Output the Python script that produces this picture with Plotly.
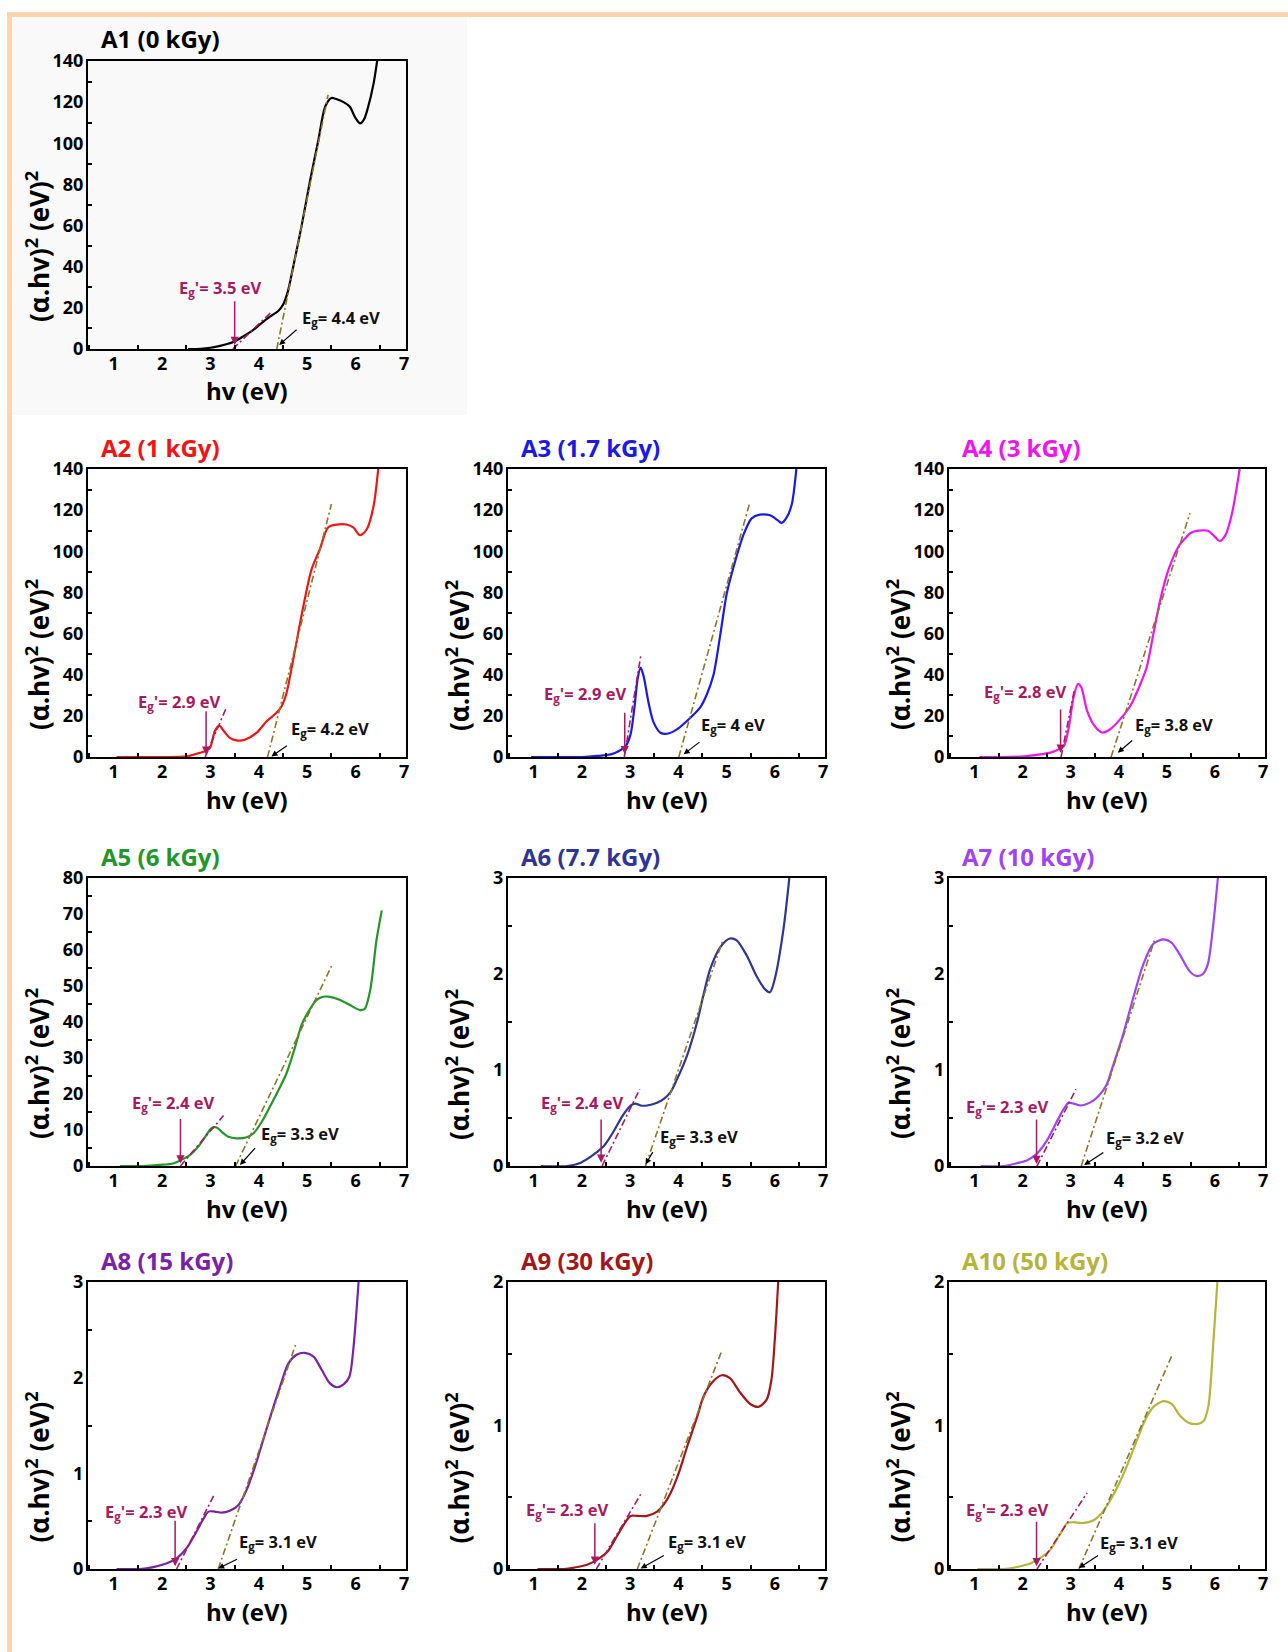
import plotly.graph_objects as go

# ---------------- data ----------------
TITLES = ["A1 (0 kGy)", "A2 (1 kGy)", "A3 (1.7 kGy)", "A4 (3 kGy)", "A5 (6 kGy)",
          "A6 (7.7 kGy)", "A7 (10 kGy)", "A8 (15 kGy)", "A9 (30 kGy)", "A10 (50 kGy)"]
COLORS = ["#000000", "#f01414", "#1a1ae6", "#f014f0", "#22962a",
          "#2e3594", "#a043f2", "#7a22a6", "#a3161a", "#b6b43a"]
Y_MAX = [140, 140, 140, 140, 80, 3, 3, 3, 2, 2]
Y_DTICK = [20, 20, 20, 20, 10, 1, 1, 1, 1, 1]

A1_x = [2.54, 2.8, 3.0, 3.2, 3.47, 3.7, 3.88, 4.05, 4.23, 4.4, 4.5, 4.6, 4.71, 4.88, 5.06, 5.23, 5.37, 5.5, 5.6, 5.75, 5.88, 5.98, 6.09, 6.17, 6.25, 6.37, 6.45]
A1_y = [0, 0.1, 0.6, 1.5, 3.4, 6.5, 9.2, 12.5, 15.7, 18.5, 21.5, 28, 40, 59.5, 82, 101.6, 117.8, 122, 121.5, 120, 117.8, 113, 109.7, 111.5, 117, 129, 141]
A2_x = [1.06, 1.5, 2.0, 2.51, 2.78, 2.89, 2.99, 3.09, 3.18, 3.28, 3.4, 3.54, 3.71, 3.95, 4.16, 4.36, 4.47, 4.57, 4.71, 4.92, 5.09, 5.26, 5.43, 5.61, 5.81, 5.95, 6.09, 6.23, 6.37, 6.47]
A2_y = [0, 0, 0, 0.3, 2, 2.8, 4.4, 12.5, 15.3, 12.5, 9.3, 8.1, 8.4, 11.7, 17.4, 21.4, 24.7, 31, 47.4, 73.4, 91.3, 101, 111.6, 113, 113, 111.6, 107.8, 110.7, 122, 141]
A3_x = [0.95, 1.5, 2.0, 2.32, 2.6, 2.77, 2.91, 3.01, 3.09, 3.16, 3.22, 3.28, 3.39, 3.49, 3.63, 3.77, 3.97, 4.25, 4.45, 4.59, 4.73, 4.87, 5.0, 5.14, 5.35, 5.52, 5.69, 5.9, 6.07, 6.14, 6.24, 6.35, 6.45]
A3_y = [0, 0, 0, 0.5, 1.3, 2.9, 5.3, 11, 24, 38.5, 43.4, 39.3, 25.6, 16.7, 11.8, 11.3, 13.4, 19.1, 24, 30.4, 40, 59.5, 79, 92, 108, 116, 117.8, 117.5, 114.9, 113.8, 116.2, 122.7, 141]
A4_x = [1.1, 1.5, 1.96, 2.37, 2.58, 2.75, 2.86, 2.96, 3.06, 3.15, 3.22, 3.34, 3.48, 3.65, 3.82, 4.03, 4.24, 4.45, 4.58, 4.72, 4.86, 5.03, 5.24, 5.38, 5.5, 5.65, 5.85, 6.0, 6.1, 6.22, 6.35, 6.52]
A4_y = [0, 0, 0.2, 1.3, 2.1, 3.7, 5.4, 14.3, 29, 35.5, 33.9, 22.5, 15.6, 11.9, 13.5, 18.4, 24.9, 35.5, 43.6, 59.9, 76.2, 90.8, 102.2, 106.3, 109, 110, 110, 107, 105, 108, 118, 141]
A5_x = [1.13, 1.6, 1.96, 2.23, 2.4, 2.58, 2.75, 2.89, 3.02, 3.13, 3.23, 3.37, 3.54, 3.75, 3.89, 4.06, 4.23, 4.44, 4.57, 4.75, 4.88, 5.02, 5.19, 5.33, 5.47, 5.68, 5.88, 6.09, 6.19, 6.3, 6.43, 6.54]
A5_y = [0, 0, 0.3, 0.7, 1.7, 3.1, 5.4, 8.1, 10.5, 10.7, 9.5, 8.1, 7.7, 8.0, 9.1, 12.3, 16.5, 22, 25.7, 33.1, 39.1, 42.8, 46.1, 47, 47, 46.1, 44.7, 43.3, 43.7, 48.8, 62.7, 71]
A6_x = [1.15, 1.7, 1.98, 2.25, 2.46, 2.67, 2.84, 3.01, 3.11, 3.22, 3.35, 3.56, 3.7, 3.84, 3.97, 4.18, 4.39, 4.52, 4.66, 4.87, 5.07, 5.21, 5.42, 5.62, 5.8, 5.9, 6.0, 6.18, 6.3]
A6_y = [0, 0, 0.035, 0.12, 0.21, 0.37, 0.52, 0.63, 0.65, 0.63, 0.63, 0.66, 0.7, 0.77, 0.9, 1.15, 1.5, 1.78, 2.05, 2.28, 2.37, 2.35, 2.19, 1.98, 1.84, 1.81, 1.95, 2.47, 3.0]
A7_x = [1.13, 1.61, 1.89, 2.1, 2.3, 2.51, 2.71, 2.85, 2.96, 3.06, 3.2, 3.4, 3.58, 3.75, 3.89, 4.09, 4.3, 4.51, 4.71, 4.92, 5.09, 5.26, 5.47, 5.61, 5.75, 5.85, 5.95, 6.06]
A7_y = [0, 0, 0.03, 0.06, 0.13, 0.27, 0.46, 0.59, 0.66, 0.65, 0.63, 0.66, 0.73, 0.85, 1.06, 1.37, 1.75, 2.1, 2.31, 2.36, 2.33, 2.21, 2.03, 1.98, 2.0, 2.1, 2.45, 3.0]
A8_x = [1.06, 1.54, 1.82, 2.1, 2.3, 2.51, 2.71, 2.85, 2.96, 3.09, 3.23, 3.4, 3.58, 3.75, 3.92, 4.09, 4.26, 4.44, 4.61, 4.78, 4.95, 5.13, 5.3, 5.47, 5.61, 5.75, 5.87, 5.95, 6.06]
A8_y = [0, 0, 0.02, 0.06, 0.11, 0.22, 0.39, 0.52, 0.6, 0.6, 0.59, 0.61, 0.67, 0.83, 1.07, 1.35, 1.63, 1.91, 2.15, 2.24, 2.26, 2.22, 2.08, 1.94, 1.9, 1.93, 2.01, 2.29, 3.0]
A9_x = [1.08, 1.63, 1.84, 2.11, 2.32, 2.53, 2.73, 2.91, 3.01, 3.15, 3.35, 3.56, 3.7, 3.84, 4.01, 4.18, 4.39, 4.52, 4.7, 4.9, 5.07, 5.28, 5.49, 5.66, 5.83, 5.93, 6.0, 6.07]
A9_y = [0, 0, 0.01, 0.03, 0.065, 0.12, 0.23, 0.33, 0.37, 0.37, 0.37, 0.4, 0.45, 0.53, 0.67, 0.85, 1.06, 1.2, 1.3, 1.35, 1.33, 1.23, 1.15, 1.13, 1.18, 1.32, 1.6, 2.0]
A10_x = [1.06, 1.61, 1.89, 2.17, 2.37, 2.58, 2.79, 2.93, 3.06, 3.24, 3.48, 3.62, 3.79, 4.0, 4.17, 4.38, 4.55, 4.72, 4.93, 5.1, 5.27, 5.45, 5.62, 5.76, 5.86, 5.97, 6.05]
A10_y = [0, 0, 0.014, 0.04, 0.077, 0.135, 0.25, 0.32, 0.326, 0.32, 0.34, 0.38, 0.46, 0.59, 0.72, 0.9, 1.04, 1.13, 1.17, 1.15, 1.07, 1.02, 1.01, 1.03, 1.13, 1.6, 2.0]

CURVES_X = [A1_x, A2_x, A3_x, A4_x, A5_x, A6_x, A7_x, A8_x, A9_x, A10_x]
CURVES_Y = [A1_y, A2_y, A3_y, A4_y, A5_y, A6_y, A7_y, A8_y, A9_y, A10_y]

EG = ["4.4", "4.2", "4", "3.8", "3.3", "3.3", "3.2", "3.1", "3.1", "3.1"]
EG_PRIME = ["3.5", "2.9", "2.9", "2.8", "2.4", "2.4", "2.3", "2.3", "2.3", "2.3"]

# main (Eg) tangent line end points: x0, y0, x1, y1
TAN_EG = [(4.37, 0, 5.43, 123.5), (4.18, 0, 5.5, 123), (4.01, 0, 5.47, 122.7), (3.84, 0, 5.48, 118.5),
          (3.52, 0, 5.5, 55.5), (3.32, 0, 4.92, 2.35), (3.22, 0, 4.76, 2.38), (3.16, 0, 4.77, 2.36),
          (3.15, 0, 4.9, 1.52), (3.17, 0, 5.12, 1.5)]
# low-energy (Eg') tangent line end points
TAN_EGP = [(3.46, 0, 4.26, 18), (2.89, 0, 3.33, 24), (2.88, 0, 3.22, 49), (2.8, 0, 3.08, 33),
           (2.38, 0, 3.27, 14), (2.42, 0, 3.2, 0.8), (2.3, 0, 3.11, 0.8), (2.3, 0, 3.09, 0.79),
           (2.3, 0, 3.22, 0.52), (2.3, 0, 3.34, 0.53)]

# ---------------- layout / annotation placement ----------------
W, H = 1288, 1652
COLS = [(88, 406), (508, 825), (949, 1265)]
ROWS = [(61, 349), (469, 757), (878, 1166), (1282, 1569)]
GRID = [(0, 0), (1, 0), (1, 1), (1, 2), (2, 0), (2, 1), (2, 2), (3, 0), (3, 1), (3, 2)]

# Eg' arrow (x, y tail, y head) and label centre; Eg arrow (tail -> head) and label centre
EGP_ARROW = [(3.5, 24, 2), (2.91, 23, 1.1), (2.89, 22.3, 1.3), (2.79, 23.8, 2.1), (2.38, 13.5, 0.7),
             (2.4, 0.5, 0.035), (2.29, 0.5, 0.02), (2.27, 0.52, 0.03), (2.27, 0.33, 0.03), (2.29, 0.34, 0.02)]
EGP_LABEL = [(3.2, 27.5), (2.37, 24.7), (2.08, 28.8), (2.06, 29.8), (2.23, 16.5),
             (2.01, 0.61), (1.68, 0.57), (1.68, 0.55), (1.7, 0.38), (1.68, 0.38)]
EG_ARROW = [(4.81, 10, 4.42, 2), (4.61, 6, 4.26, 0.3), (4.47, 7.8, 4.11, 1.3), (4.31, 8.6, 3.98, 2.1),
            (3.95, 5.4, 3.61, 0.3), (3.49, 0.16, 3.32, 0.017), (3.71, 0.15, 3.28, 0.01),
            (3.58, 0.11, 3.16, 0.005), (3.73, 0.1, 3.22, 0.004), (3.6, 0.1, 3.17, 0.007)]
EG_LABEL = [(5.69, 13.3), (5.47, 11.7), (5.14, 13.4), (5.15, 13.5), (4.86, 7.7),
            (4.43, 0.26), (4.54, 0.25), (4.4, 0.24), (4.59, 0.16), (4.43, 0.15)]

FONT = "Open Sans"
MAG = "#a8195f"
OLIVE = "#8a7626"

fig = go.Figure()
annotations = []
shapes = []

def px_x(p):
    return p / W

def px_y(p):
    return 1 - p / H

for i in range(10):
    r, c = GRID[i]
    x0p, x1p = COLS[c]
    y0p, y1p = ROWS[r]
    sfx = "" if i == 0 else str(i + 1)
    xa, ya = "x" + sfx, "y" + sfx

    fig.add_trace(go.Scatter(x=CURVES_X[i], y=CURVES_Y[i], mode="lines",
                             line=dict(color=COLORS[i], width=2.2, shape="spline", smoothing=0.8),
                             xaxis=xa, yaxis=ya, showlegend=False, hoverinfo="skip"))
    t = TAN_EGP[i]
    fig.add_trace(go.Scatter(x=[t[0], t[2]], y=[t[1], t[3]], mode="lines",
                             line=dict(color=MAG, width=1.6, dash="7px,3px,2px,3px"),
                             xaxis=xa, yaxis=ya, showlegend=False, hoverinfo="skip"))
    t = TAN_EG[i]
    fig.add_trace(go.Scatter(x=[t[0], t[2]], y=[t[1], t[3]], mode="lines",
                             line=dict(color=OLIVE, width=1.6, dash="7px,3px,2px,3px"),
                             xaxis=xa, yaxis=ya, showlegend=False, hoverinfo="skip"))

    ax_common = dict(showline=True, linewidth=2, linecolor="black", mirror=True, automargin=False,
                     showgrid=False, zeroline=False, ticks="",
                     tickfont=dict(family=FONT, size=18, color="black", weight="bold"))
    fig.layout["xaxis" + sfx] = dict(domain=[px_x(x0p), px_x(x1p)], anchor=ya, range=[0.47, 7.04],
                                     dtick=1, tick0=0, ticklabelstandoff=-3,
                                     minor=dict(ticks="inside", ticklen=4, tickwidth=1.5,
                                                tickcolor="black", dtick=0.5, tick0=0), **ax_common)
    fig.layout["yaxis" + sfx] = dict(domain=[px_y(y1p), px_y(y0p)], anchor=xa, range=[0, Y_MAX[i]],
                                     dtick=Y_DTICK[i], tick0=0, ticklabelstandoff=-1,
                                     minor=dict(ticks="inside", ticklen=4, tickwidth=1.5,
                                                tickcolor="black", dtick=Y_DTICK[i] / 2, tick0=0),
                                     **ax_common)

    # panel title
    annotations.append(dict(text=TITLES[i], xref="paper", yref="paper", x=px_x(x0p + 11),
                            y=px_y(y0p - 22), xanchor="left", yanchor="middle", showarrow=False,
                            font=dict(family=FONT, size=24, color=COLORS[i], weight="bold")))
    # axis titles
    annotations.append(dict(text="hv (eV)", xref="paper", yref="paper", x=px_x((x0p + x1p) / 2),
                            y=px_y(y1p + 42), xanchor="center", yanchor="middle", showarrow=False,
                            font=dict(family=FONT, size=24, color="black", weight="bold")))
    annotations.append(dict(text="(\u03b1.hv)<sup>2</sup> (eV)<sup>2</sup>", xref="paper", yref="paper",
                            x=px_x(x0p - 50), y=px_y((y0p + y1p) / 2 + 42), textangle=-90,
                            xanchor="center", yanchor="middle", showarrow=False,
                            font=dict(family=FONT, size=26, color="black", weight="bold")))
    # Eg' arrow and label
    a = EGP_ARROW[i]
    annotations.append(dict(text="", x=a[0], y=a[2], ax=a[0], ay=a[1], xref=xa, yref=ya,
                            axref=xa, ayref=ya, showarrow=True, arrowhead=2, arrowsize=1.1,
                            arrowwidth=1.5, arrowcolor=MAG))
    lx, ly = EGP_LABEL[i]
    annotations.append(dict(text="E<sub>g</sub>'= " + EG_PRIME[i] + " eV", x=lx, y=ly, xref=xa, yref=ya,
                            showarrow=False, xanchor="center", yanchor="middle", yshift=4,
                            font=dict(family=FONT, size=16.5, color=MAG, weight="bold")))
    # Eg arrow and label
    a = EG_ARROW[i]
    annotations.append(dict(text="", x=a[2], y=a[3], ax=a[0], ay=a[1], xref=xa, yref=ya,
                            axref=xa, ayref=ya, showarrow=True, arrowhead=2, arrowsize=1,
                            arrowwidth=1.2, arrowcolor="black"))
    lx, ly = EG_LABEL[i]
    annotations.append(dict(text="E<sub>g</sub>= " + EG[i] + " eV", x=lx, y=ly, xref=xa, yref=ya,
                            showarrow=False, xanchor="center", yanchor="middle", yshift=4,
                            font=dict(family=FONT, size=16.5, color="#111111", weight="bold")))

# light block behind A1 and the peach frame
shapes.append(dict(type="rect", xref="paper", yref="paper", x0=px_x(12), x1=px_x(467),
                   y0=px_y(415), y1=px_y(17), fillcolor="#f9f9f9", line=dict(width=0), layer="below"))
shapes.append(dict(type="line", xref="paper", yref="paper", x0=px_x(7), x1=1.0,
                   y0=px_y(14.5), y1=px_y(14.5), line=dict(color="#fcd4b2", width=5)))
shapes.append(dict(type="line", xref="paper", yref="paper", x0=px_x(9.5), x1=px_x(9.5),
                   y0=px_y(12), y1=0.0, line=dict(color="#fcd4b2", width=5)))

fig.update_layout(width=W, height=H, margin=dict(l=0, r=0, t=0, b=0, pad=0),
                  paper_bgcolor="white", plot_bgcolor="white",
                  annotations=annotations, shapes=shapes, showlegend=False)

fig.write_html("out.html")
